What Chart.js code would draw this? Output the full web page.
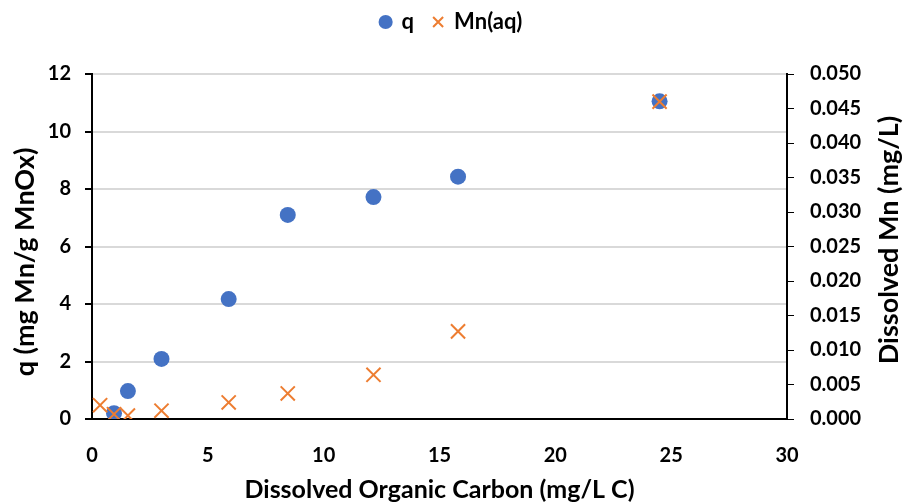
<!DOCTYPE html>
<html>
<head>
<meta charset="utf-8">
<script src="https://cdn.jsdelivr.net/npm/chart.js@4.4.0/dist/chart.umd.min.js"></script>
<style>
  html, body { margin: 0; padding: 0; background: #fff; }
  #wrap { width: 903px; height: 502px; }
</style>
</head>
<body>
<div id="wrap"><canvas id="myChart" width="903" height="502"></canvas></div>
<script>
// DOC (mg/L C) for each sample
const docQ = [0.95, 1.55, 3.0, 5.9, 8.45, 12.15, 15.8, 24.5];
const qValues = [0.2, 0.97, 2.09, 4.17, 7.1, 7.72, 8.43, 11.05];

const docMn = [0.35, 0.95, 1.55, 3.0, 5.9, 8.45, 12.15, 15.8, 24.5];
const mnValues = [0.0020, 0.0007, 0.0005, 0.0012, 0.0024, 0.0037, 0.0064, 0.0127, 0.0460];

const leftTitle = 'q (mg Mn/g MnOx)';
const rightTitle = 'Dissolved Mn (mg/L)';
const bottomTitle = 'Dissolved Organic Carbon (mg/L C)';

const fontFamily = 'Lato, "Open Sans", sans-serif';

function toPoints(xs, ys) {
    return xs.map((x, i) => ({ x: x, y: ys[i] }));
}

// both y titles read bottom-to-top
const sideTitles = {
    id: 'sideTitles',
    afterDraw(chart) {
        const ctx = chart.ctx;
        ctx.save();
        ctx.font = 'bold 27px ' + fontFamily;
        ctx.fillStyle = '#000';
        ctx.textAlign = 'center';
        ctx.textBaseline = 'middle';
        [[25, 262, leftTitle], [889, 240, rightTitle]].forEach(([x, y, text]) => {
            ctx.save();
            ctx.translate(x, y);
            ctx.rotate(-Math.PI / 2);
            ctx.fillText(text, 0, 0);
            ctx.restore();
        });
        ctx.restore();
    }
};

// leave room between the legend and the plot
const legendSpace = {
    id: 'legendSpace',
    beforeInit(chart) {
        const legend = chart.legend;
        const fit = legend.fit;
        legend.fit = function() {
            fit.call(this);
            this.height = 82;
        };
    }
};

const tickFont = { family: fontFamily, size: 20, weight: 'bold' };

const ctx = document.getElementById('myChart').getContext('2d');
new Chart(ctx, {
    type: 'scatter',
    data: {
        datasets: [{
            label: 'q',
            data: toPoints(docQ, qValues),
            yAxisID: 'y',
            order: 2,
            pointStyle: 'circle',
            pointRadius: 8,
            pointHoverRadius: 8,
            backgroundColor: '#4472C4',
            borderColor: '#4472C4',
            borderWidth: 0
        }, {
            label: 'Mn(aq)',
            data: toPoints(docMn, mnValues),
            yAxisID: 'y1',
            order: 1,
            pointStyle: 'crossRot',
            pointRadius: 10,
            pointHoverRadius: 10,
            backgroundColor: '#ED7D31',
            borderColor: '#ED7D31',
            borderWidth: 2
        }]
    },
    options: {
        responsive: false,
        animation: false,
        layout: { padding: { top: -8, left: 0, right: 0, bottom: 0 } },
        plugins: {
            tooltip: { enabled: false },
            legend: {
                position: 'top',
                labels: {
                    usePointStyle: true,
                    boxWidth: 10,
                    boxHeight: 10,
                    padding: 19,
                    color: '#000',
                    font: { family: fontFamily, size: 22, weight: 'bold' },
                    sort: (a, b) => a.datasetIndex - b.datasetIndex
                }
            }
        },
        scales: {
            x: {
                type: 'linear',
                min: 0,
                max: 30,
                ticks: {
                    stepSize: 5,
                    color: '#000',
                    padding: 17,
                    font: tickFont
                },
                grid: { display: false },
                border: { display: true, color: '#000', width: 2 },
                title: {
                    display: true,
                    text: bottomTitle,
                    color: '#000',
                    padding: 0,
                    font: { family: fontFamily, size: 25, weight: 'bold', lineHeight: 1 }
                },
                afterFit(scale) { scale.height = 83; }
            },
            y: {
                position: 'left',
                min: 0,
                max: 12,
                ticks: {
                    stepSize: 2,
                    color: '#000',
                    padding: 14,
                    font: tickFont
                },
                grid: {
                    color: '#D9D9D9',
                    lineWidth: 2,
                    tickColor: '#000',
                    tickLength: 7
                },
                border: { display: true, color: '#000', width: 2 },
                afterFit(scale) { scale.width = 92; }
            },
            y1: {
                position: 'right',
                min: 0,
                max: 0.05,
                ticks: {
                    stepSize: 0.005,
                    color: '#000',
                    padding: 16,
                    font: tickFont,
                    callback: value => value.toFixed(3)
                },
                grid: {
                    drawOnChartArea: false,
                    tickColor: '#000',
                    tickLength: 7
                },
                border: { display: true, color: '#000', width: 2 },
                afterFit(scale) { scale.width = 116; }
            }
        }
    },
    plugins: [legendSpace, sideTitles]
});
</script>
</body>
</html>
